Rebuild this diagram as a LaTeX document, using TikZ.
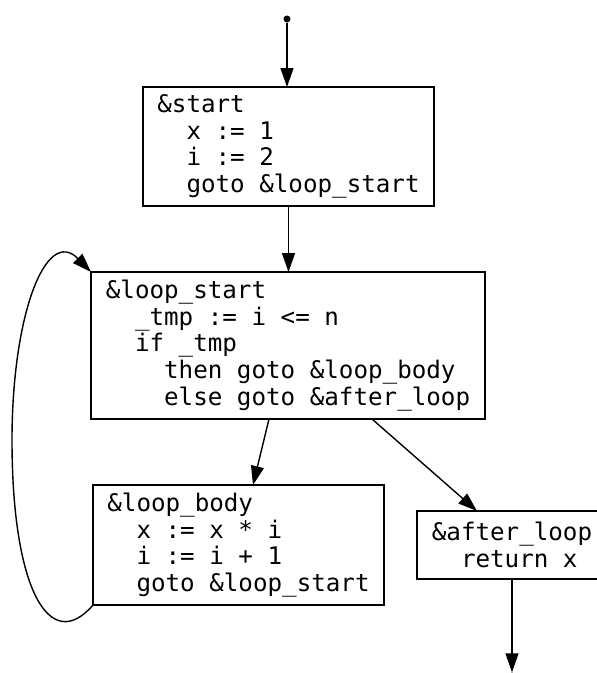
\documentclass[tikz,border=0pt]{standalone}
\usepackage{fontspec}
\setmonofont{DejaVu Sans Mono}
\usetikzlibrary{arrows.meta,calc}
\begin{document}
\begin{tikzpicture}[x=1pt,y=-1pt,
  block/.style={draw, line width=1.4pt, anchor=north west, align=left,
    inner sep=0pt, outer sep=0pt, font=\ttfamily\fontsize{24.2}{26.7}\selectfont},
  arr/.style={line width=1.4pt, -{Triangle[length=19pt,width=13pt]}},
  pt/.style={circle, fill, inner sep=0pt, minimum size=7pt}]
\useasboundingbox (0,0) rectangle (597,673);

\node[pt] (entry) at (287,19) {};
\node[pt] (exit) at (512,676) {};

\node[block, minimum width=291pt, minimum height=119pt] (start) at (143,87)
  {\&start\\~~x := 1\\~~i := 2\\~~goto \&loop\_start};
\node[block, minimum width=394pt, minimum height=147pt] (loopstart) at (91,272)
  {\&loop\_start\\~~\_tmp := i <= n\\~~if \_tmp\\~~~~then goto \&loop\_body\\~~~~else goto \&after\_loop};
\node[block, minimum width=291pt, minimum height=120pt] (loopbody) at (93,485)
  {\&loop\_body\\~~x := x * i\\~~i := i + 1\\~~goto \&loop\_start};
\node[block, minimum width=190pt, minimum height=68pt] (afterloop) at (417,511)
  {\&after\_loop\\~~return x};

\draw[arr] (entry) -- (entry |- start.north);
\draw[arr] (start.south) -- (start.south |- loopstart.north);
\draw[arr] ($(loopstart.south west)+(178,0)$) -- ($(loopbody.north west)+(160,0)$);
\draw[arr] ($(loopstart.south west)+(281,0)$) -- ($(afterloop.north west)+(60,0)$);
\draw[arr] (afterloop.south) -- (afterloop.south |- exit.north);
\draw[arr] (loopbody.south west) .. controls (50,655) and (12,590) .. (12,440)
  .. controls (12,315) and (46,226) .. (loopstart.north west);
\end{tikzpicture}
\end{document}
